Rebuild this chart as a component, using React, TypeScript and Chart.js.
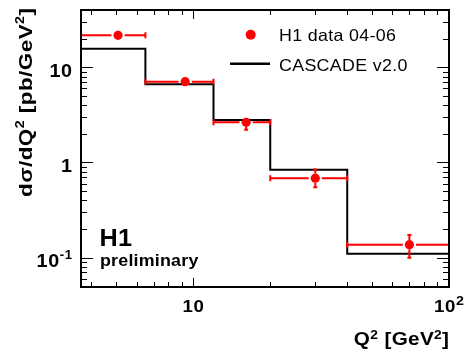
import React, { useEffect, useRef } from "react";
import { Chart, registerables } from "chart.js";

Chart.register(...registerables);

// ---- data ----
const binLow = [3, 6.5, 12, 20, 40];
const binHigh = [6.5, 12, 20, 40, 100];
const dataX = [5.08, 9.3, 16.1, 30, 70];
const dataY = [21.7, 7.07, 2.64, 0.684, 0.137];
const dataYLow = [20.6, 6.75, 2.21, 0.55, 0.1];
const dataYHigh = [22.8, 7.4, 2.9, 0.845, 0.173];
const cascadeY = [15.7, 6.62, 2.8, 0.837, 0.11];

// ---- axis ticks & labels ----
const xRange = [3.64, 100];
const yRange = [0.0492, 40];
const xMinorTicks = [4, 5, 6, 7, 8, 9, 20, 30, 40, 50, 60, 70, 80, 90];
const xMajorTicks = [10, 100];
const xTickLabels: [string, string][] = [["10", ""], ["10", "2"]];
const yMinorTicks = [0.05, 0.06, 0.07, 0.08, 0.09, 0.2, 0.3, 0.4, 0.5, 0.6, 0.7, 0.8, 0.9, 2, 3, 4, 5, 6, 7, 8, 9, 20, 30, 40];
const yMajorTicks = [0.1, 1, 10];
const yTickLabels: [string, string][] = [["10", "-1"], ["1", ""], ["10", ""]];

const seriesNames = ["H1 data 04-06", "CASCADE v2.0"];
const RED = "#ff0000";
const FONT = '"Liberation Sans", Arial, Helvetica, sans-serif';

type Part = [string, boolean];

function setFont(ctx: CanvasRenderingContext2D, size: number, bold: boolean, spacing: number) {
  ctx.font = `${bold ? "bold " : ""}${size}px ${FONT}`;
  (ctx as any).letterSpacing = `${spacing}px`;
}

function drawRich(
  ctx: CanvasRenderingContext2D,
  parts: Part[],
  x: number,
  y: number,
  align: "left" | "center" | "right",
  size: number,
  supSize: number,
  raise: number,
  spacing: number,
  bold = true,
  stretch = 1
) {
  let w = 0;
  const widths: number[] = [];
  for (const [t, sup] of parts) {
    setFont(ctx, sup ? supSize : size, bold, spacing);
    const m = ctx.measureText(t).width;
    widths.push(m);
    w += m;
  }
  w -= spacing;
  const total = w * stretch;
  const sx = align === "right" ? x - total : align === "center" ? x - total / 2 : x;
  ctx.save();
  ctx.translate(sx, y);
  ctx.scale(stretch, 1);
  ctx.textAlign = "left";
  ctx.textBaseline = "alphabetic";
  let cx = 0;
  parts.forEach(([t, sup], i) => {
    setFont(ctx, sup ? supSize : size, bold, spacing);
    ctx.fillText(t, cx, sup ? -raise : 0);
    cx += widths[i];
  });
  (ctx as any).letterSpacing = "0px";
  ctx.restore();
}

const MARKER_R = 4.6;

const errorPlugin = {
  id: "errbars",
  beforeDatasetDraw(chart: any, args: any) {
    if (args.index !== 0) return;
    const { ctx, chartArea: a, scales } = chart;
    const xs = scales.x;
    const ys = scales.y;
    ctx.save();
    ctx.beginPath();
    ctx.rect(a.left, a.top, a.right - a.left, a.bottom - a.top);
    ctx.clip();
    ctx.strokeStyle = RED;
    ctx.lineWidth = 2;
    for (let i = 0; i < dataX.length; i++) {
      const px = xs.getPixelForValue(dataX[i]);
      const py = ys.getPixelForValue(dataY[i]);
      const xl = xs.getPixelForValue(binLow[i]);
      const xh = xs.getPixelForValue(binHigh[i]);
      const gap = MARKER_R + 2;
      ctx.beginPath();
      ctx.moveTo(xl, py);
      ctx.lineTo(px - gap, py);
      ctx.moveTo(px + gap, py);
      ctx.lineTo(xh, py);
      ctx.moveTo(xl, py - 3);
      ctx.lineTo(xl, py + 3);
      ctx.moveTo(xh, py - 3);
      ctx.lineTo(xh, py + 3);
      ctx.stroke();
      const yh = ys.getPixelForValue(dataYHigh[i]);
      const yl = ys.getPixelForValue(dataYLow[i]);
      ctx.beginPath();
      if (yh < py - MARKER_R) {
        ctx.moveTo(px, py - MARKER_R);
        ctx.lineTo(px, yh);
        ctx.moveTo(px - 2, yh);
        ctx.lineTo(px + 2, yh);
      }
      if (yl > py + MARKER_R) {
        ctx.moveTo(px, py + MARKER_R);
        ctx.lineTo(px, yl);
        ctx.moveTo(px - 2, yl);
        ctx.lineTo(px + 2, yl);
      }
      ctx.stroke();
    }
    ctx.restore();
  },
};

const framePlugin = {
  id: "rootframe",
  afterDraw(chart: any) {
    const { ctx, chartArea: a, scales } = chart;
    const xs = scales.x;
    const ys = scales.y;
    ctx.save();
    ctx.strokeStyle = "#000";
    ctx.fillStyle = "#000";
    ctx.lineWidth = 1;
    ctx.beginPath();
    const xt = (v: number, len: number) => {
      const px = Math.round(xs.getPixelForValue(v)) + 0.5;
      ctx.moveTo(px, a.bottom);
      ctx.lineTo(px, a.bottom - len);
      ctx.moveTo(px, a.top);
      ctx.lineTo(px, a.top + len);
    };
    const yt = (v: number, len: number) => {
      const py = Math.round(ys.getPixelForValue(v)) + 0.5;
      ctx.moveTo(a.left, py);
      ctx.lineTo(a.left + len, py);
      ctx.moveTo(a.right, py);
      ctx.lineTo(a.right - len, py);
    };
    xMinorTicks.forEach((v) => xt(v, 5));
    xMajorTicks.forEach((v) => xt(v, 9));
    yMinorTicks.forEach((v) => yt(v, 6));
    yMajorTicks.forEach((v) => yt(v, 12));
    ctx.stroke();
    ctx.lineWidth = 2;
    ctx.strokeRect(a.left, a.top, a.right - a.left, a.bottom - a.top);

    // tick labels
    xMajorTicks.forEach((v, i) => {
      const px = xs.getPixelForValue(v);
      const [b, s] = xTickLabels[i];
      const parts: Part[] = s ? [[b, false], [s, true]] : [[b, false]];
      drawRich(ctx, parts, px, 312, "center", 17, 13, 7, 0.5, true, 1.1);
    });
    yMajorTicks.forEach((v, i) => {
      const py = ys.getPixelForValue(v);
      const [b, s] = yTickLabels[i];
      const parts: Part[] = s ? [[b, false], [s, true]] : [[b, false]];
      drawRich(ctx, parts, 72, py + 9.5, "right", 18, 12, 8, 0.5, true, 1.1);
    });

    // axis titles
    drawRich(
      ctx,
      [["Q", false], ["2", true], [" [GeV", false], ["2", true], ["]", false]],
      449,
      345,
      "right",
      18,
      12,
      6,
      0.3,
      true,
      1.15
    );
    ctx.save();
    ctx.translate(31.5, 197);
    ctx.rotate(-Math.PI / 2);
    drawRich(
      ctx,
      [["d\u03c3/dQ", false], ["2", true], [" [pb/GeV", false], ["2", true], ["]", false]],
      0,
      0,
      "left",
      19,
      12,
      8,
      0.4,
      true,
      1.18
    );
    ctx.restore();

    // H1 preliminary
    drawRich(ctx, [["H1", false]], 99.5, 246, "left", 24, 12, 0, 0.3, true, 1.05);
    drawRich(ctx, [["preliminary", false]], 100, 266, "left", 17, 12, 0, 0.2, true, 1.05);

    // legend
    ctx.fillStyle = RED;
    ctx.beginPath();
    ctx.arc(250.7, 34.7, 5, 0, Math.PI * 2);
    ctx.fill();
    ctx.strokeStyle = "#000";
    ctx.lineWidth = 2.5;
    ctx.beginPath();
    ctx.moveTo(230, 63.8);
    ctx.lineTo(270, 63.8);
    ctx.stroke();
    ctx.fillStyle = "#000";
    drawRich(ctx, [[seriesNames[0], false]], 279, 40.5, "left", 16.5, 12, 0, 0.3, false, 1.08);
    drawRich(ctx, [[seriesNames[1], false]], 279, 70.7, "left", 16.5, 12, 0, 0.3, false, 1.08);
    ctx.restore();
  },
};

export default function App() {
  const ref = useRef<HTMLCanvasElement | null>(null);
  useEffect(() => {
    if (!ref.current) return;
    const histPoints = binLow.map((x, i) => ({ x, y: cascadeY[i] }));
    histPoints.push({ x: binHigh[binHigh.length - 1], y: cascadeY[cascadeY.length - 1] });
    const chart = new Chart(ref.current, {
      type: "scatter",
      data: {
        datasets: [
          {
            label: seriesNames[0],
            data: dataX.map((x, i) => ({ x, y: dataY[i] })),
            backgroundColor: RED,
            borderColor: RED,
            borderWidth: 0,
            pointRadius: MARKER_R,
            pointStyle: "circle",
            order: 0,
          } as any,
          {
            type: "line",
            label: seriesNames[1],
            data: histPoints,
            borderColor: "#000",
            borderWidth: 2,
            pointRadius: 0,
            stepped: "before",
            fill: false,
            showLine: true,
            order: 1,
          } as any,
        ],
      },
      options: {
        animation: false,
        responsive: false,
        maintainAspectRatio: false,
        events: [],
        layout: { padding: { left: 81, top: 10, right: 24, bottom: 74 } },
        plugins: { legend: { display: false }, tooltip: { enabled: false } },
        scales: {
          x: { type: "logarithmic", min: xRange[0], max: xRange[1], display: false },
          y: { type: "logarithmic", min: yRange[0], max: yRange[1], display: false },
        },
      },
      plugins: [errorPlugin, framePlugin],
    });
    return () => chart.destroy();
  }, []);
  return (
    <div style={{ position: "fixed", left: 0, top: 0, width: 473, height: 361, background: "#fff" }}>
      <canvas ref={ref} width={473} height={361} style={{ display: "block" }} />
    </div>
  );
}
